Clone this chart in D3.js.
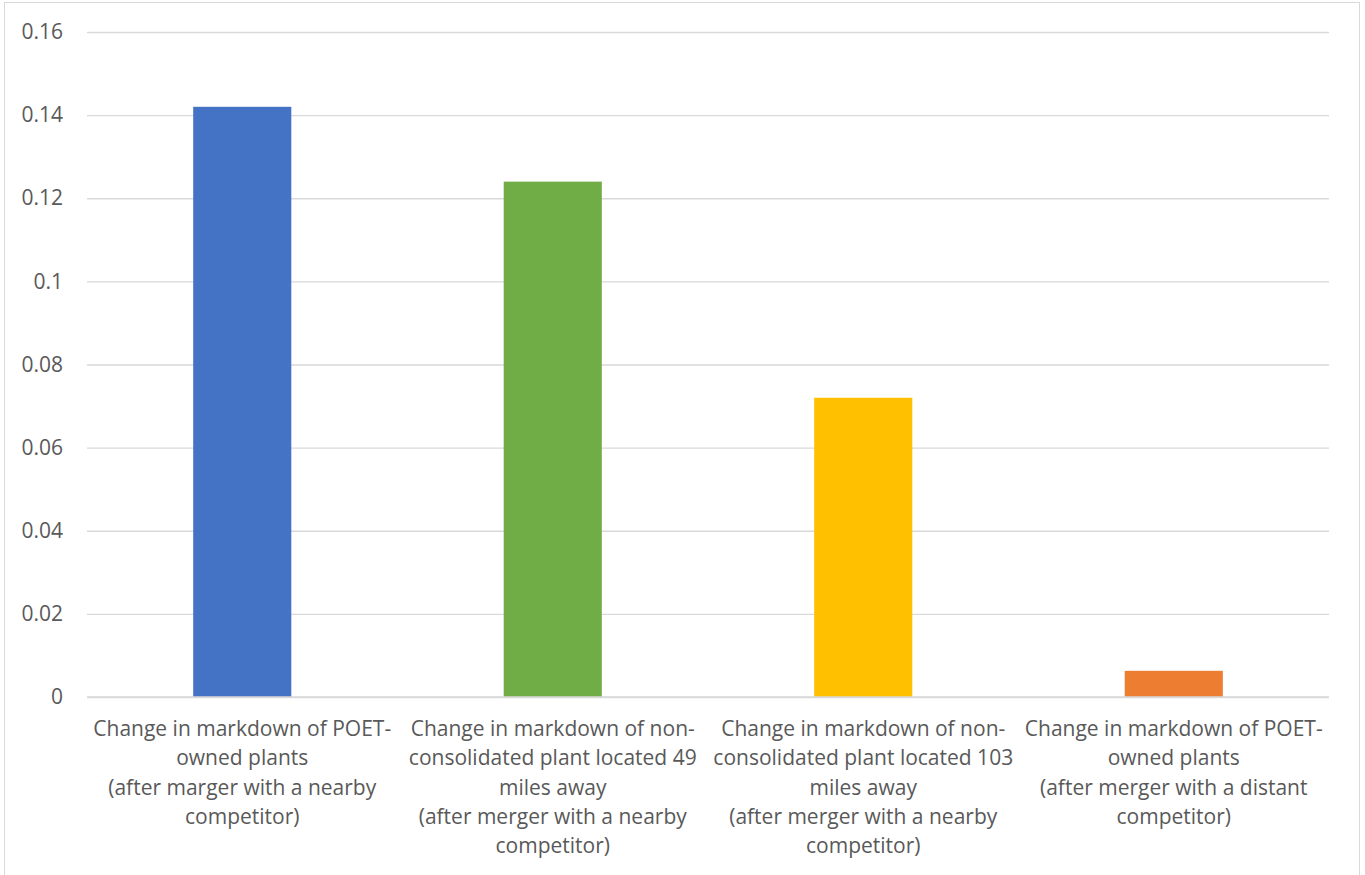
<!DOCTYPE html>
<html>
<head>
<meta charset="utf-8">
<script src="https://cdn.jsdelivr.net/npm/d3@7"></script>
<style>
  body { margin: 0; background: #fff; }
  svg text { font-family: "Open Sans", "Noto Sans", sans-serif; fill: #595959; }
</style>
</head>
<body>
<div class="graph"></div>
<script>
// Datos del gráfico
const categories = ["poetNearby", "plant49", "plant103", "poetDistant"];
const labelLines = [
    ["Change in markdown of POET-", "owned plants", "(after marger with a nearby", "competitor)"],
    ["Change in markdown of non-", "consolidated plant located 49", "miles away", "(after merger with a nearby", "competitor)"],
    ["Change in markdown of non-", "consolidated plant located 103", "miles away", "(after merger with a nearby", "competitor)"],
    ["Change in markdown of POET-", "owned plants", "(after merger with a distant", "competitor)"]
];
const values = [0.142, 0.124, 0.072, 0.0063];
const barColors = ["#4472c4", "#70ad47", "#ffc000", "#ed7d31"];
const yTicks = [0, 0.02, 0.04, 0.06, 0.08, 0.1, 0.12, 0.14, 0.16];

const width = 1365;
const height = 875;
const margin = { top: 32, right: 36, bottom: 178, left: 87 };

const svg = d3.select(".graph")
    .append("svg")
    .attr("width", width)
    .attr("height", height);

// Borde del área del gráfico
svg.append("rect")
    .attr("x", 4.5)
    .attr("y", 2.5)
    .attr("width", 1355)
    .attr("height", 880)
    .attr("fill", "none")
    .attr("stroke", "#d9d9d9");

const xScale = d3.scaleBand()
    .domain(categories)
    .range([margin.left, width - margin.right])
    .paddingInner(0.684)
    .paddingOuter(0.342);

const yScale = d3.scaleLinear()
    .domain([0, 0.16])
    .range([height - margin.bottom, margin.top]);

// Líneas de cuadrícula y etiquetas del eje Y
const yAxis = svg.append("g")
    .attr("transform", `translate(${margin.left}, 0)`)
    .call(d3.axisLeft(yScale)
        .tickValues(yTicks)
        .tickFormat(d => d === 0 ? "0" : String(+d.toFixed(2)))
        .tickSize(-(width - margin.left - margin.right))
        .tickPadding(24));
yAxis.select(".domain").remove();
yAxis.selectAll(".tick line").attr("stroke", "#d9d9d9").attr("stroke-width", 1.3);
yAxis.selectAll(".tick text").style("font-size", "21px").attr("fill", "#595959");

// Barras
svg.append("g")
    .selectAll("rect")
    .data(values)
    .join("rect")
    .attr("x", (d, i) => xScale(categories[i]))
    .attr("y", d => yScale(d))
    .attr("width", xScale.bandwidth())
    .attr("height", d => yScale(0) - yScale(d))
    .attr("fill", (d, i) => barColors[i]);

// Línea base
svg.append("line")
    .attr("x1", margin.left)
    .attr("x2", width - margin.right)
    .attr("y1", yScale(0))
    .attr("y2", yScale(0))
    .attr("stroke", "#d9d9d9")
    .attr("stroke-width", 1.3);

// Etiquetas de categorías (varias líneas)
const xAxis = svg.append("g")
    .attr("transform", `translate(0, ${yScale(0)})`)
    .call(d3.axisBottom(xScale).tickSize(0).tickFormat(""));
xAxis.select(".domain").remove();

const labels = svg.append("g")
    .selectAll("text")
    .data(categories)
    .join("text")
    .attr("x", d => xScale(d) + xScale.bandwidth() / 2)
    .attr("y", yScale(0) + 39)
    .attr("text-anchor", "middle")
    .style("font-size", "21px");

labels.selectAll("tspan")
    .data((d, i) => labelLines[i])
    .join("tspan")
    .attr("x", function () { return this.parentNode.getAttribute("x"); })
    .attr("dy", (d, i) => i === 0 ? 0 : 29.3)
    .text(d => d);
</script>
</body>
</html>
